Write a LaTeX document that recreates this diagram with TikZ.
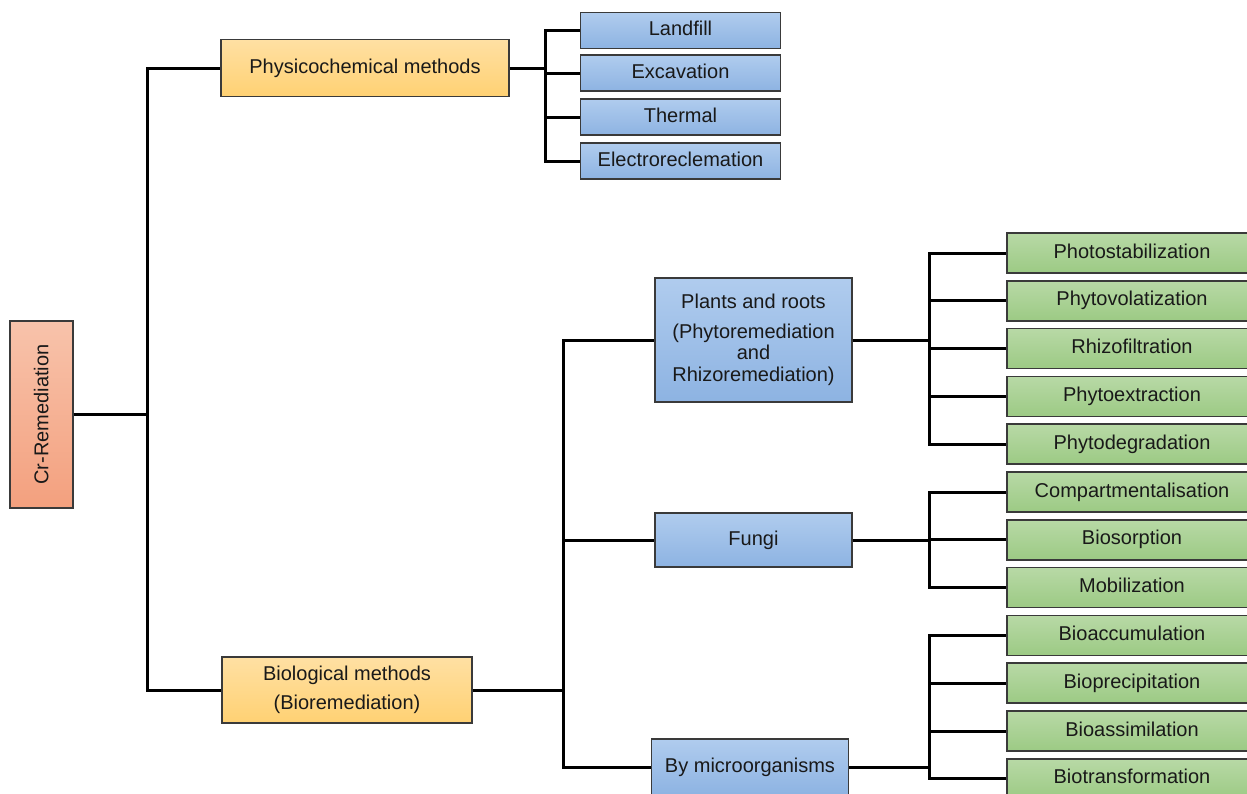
\documentclass[tikz,border=0pt]{standalone}
\usepackage{fontspec}
\setmainfont{Liberation Sans}
\definecolor{bluetop}{HTML}{B0CCEE}
\definecolor{bluebot}{HTML}{8DB3E2}
\definecolor{greentop}{HTML}{B8D9A6}
\definecolor{greenbot}{HTML}{9CCA84}
\definecolor{orangetop}{HTML}{FFE0A3}
\definecolor{orangebot}{HTML}{FFD173}
\definecolor{salmontop}{HTML}{F8C3AB}
\definecolor{salmonbot}{HTML}{F3A07E}
\definecolor{boxline}{HTML}{3A3A3A}
\begin{document}
\begin{tikzpicture}[x=1pt,y=-1pt,
  basebox/.style={draw=boxline,line width=1.6pt,inner sep=0pt,align=center,
    font=\fontsize{20}{21.5}\selectfont,text=black!90},
  oneline/.style={text height=14.5pt,text depth=4.2pt},
  bluebox/.style={basebox,top color=bluetop,bottom color=bluebot},
  greenbox/.style={basebox,oneline,top color=greentop,bottom color=greenbot,minimum width=250,minimum height=40},
  orangebox/.style={basebox,top color=orangetop,bottom color=orangebot},
  salmonbox/.style={basebox,top color=salmontop,bottom color=salmonbot},
  smallblue/.style={bluebox,oneline,minimum width=200,minimum height=36},
  conn/.style={line width=3pt,black}]
\useasboundingbox (0,0) rectangle (1247,793);

% root
\node[salmonbox,minimum width=63,minimum height=187] (cr) at (41.3,414.5) {\rotatebox{90}{Cr-Remediation}};
% level 1
\node[orangebox,oneline,minimum width=288,minimum height=57] (phys) at (365,68) {Physicochemical methods};
\node[orangebox,minimum width=250,minimum height=66] (bio) at (347,690) {Biological methods\\[7pt](Bioremediation)};
% physicochemical children
\node[smallblue] (land) at (680.5,30.5) {Landfill};
\node[smallblue] (exc) at (680.5,73) {Excavation};
\node[smallblue] (therm) at (680.5,117) {Thermal};
\node[smallblue] (elec) at (680.5,161) {Electroreclemation};
% biological children
\node[bluebox,minimum width=197,minimum height=124] (plants) at (753.5,340) {Plants and roots\\[8pt](Phytoremediation\\and\\Rhizoremediation)};
\node[bluebox,oneline,minimum width=197,minimum height=54] (fungi) at (753.5,540) {Fungi};
\node[bluebox,oneline,minimum width=197,minimum height=56] (micro) at (750,767) {By microorganisms};
% green leaves
\node[greenbox] (g1) at (1132,253) {Photostabilization};
\node[greenbox] (g2) at (1132,300.8) {Phytovolatization};
\node[greenbox] (g3) at (1132,348.6) {Rhizofiltration};
\node[greenbox] (g4) at (1132,396.4) {Phytoextraction};
\node[greenbox] (g5) at (1132,444.2) {Phytodegradation};
\node[greenbox] (g6) at (1132,492) {Compartmentalisation};
\node[greenbox] (g7) at (1132,539.8) {Biosorption};
\node[greenbox] (g8) at (1132,587.6) {Mobilization};
\node[greenbox] (g9) at (1132,635.4) {Bioaccumulation};
\node[greenbox] (g10) at (1132,683.2) {Bioprecipitation};
\node[greenbox] (g11) at (1132,731) {Bioassimilation};
\node[greenbox] (g12) at (1132,778.8) {Biotransformation};

% trunk coordinates
\coordinate (t0) at (147,0);
\coordinate (t1) at (545.5,0);
\coordinate (t2) at (563,0);
\coordinate (t3) at (929,0);

% connectors
\foreach \c in {phys,bio}
  \draw[conn] (cr.east) -- (cr.east -| t0) |- (\c.west);
\foreach \c in {land,exc,therm,elec}
  \draw[conn] (phys.east) -- (phys.east -| t1) |- (\c.west);
\foreach \c in {plants,fungi,micro}
  \draw[conn] (bio.east) -- (bio.east -| t2) |- (\c.west);
\foreach \c in {g1,g2,g3,g4,g5}
  \draw[conn] (plants.east) -- (plants.east -| t3) |- (\c.west);
\foreach \c in {g6,g7,g8}
  \draw[conn] (fungi.east) -- (fungi.east -| t3) |- (\c.west);
\foreach \c in {g9,g10,g11,g12}
  \draw[conn] (micro.east) -- (micro.east -| t3) |- (\c.west);
\end{tikzpicture}
\end{document}
